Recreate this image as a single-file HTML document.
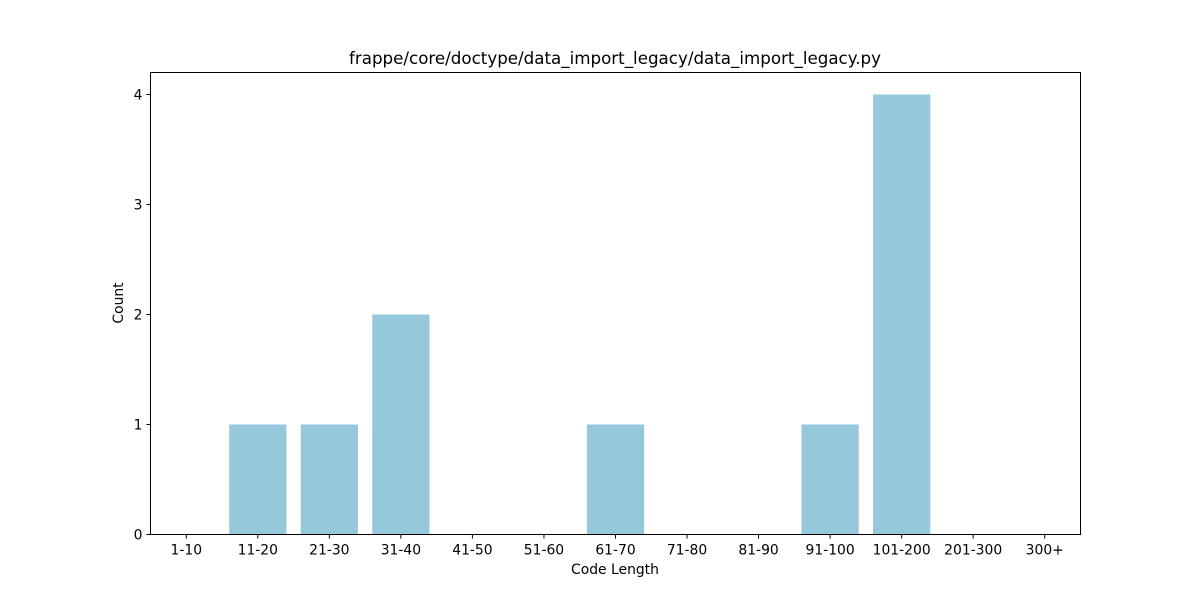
<!DOCTYPE html>
<html><head><meta charset="utf-8"><style>
html,body{margin:0;padding:0;background:#fff;}
svg{display:block;font-family:"DejaVu Sans","Liberation Sans",sans-serif;}
</style></head><body>
<svg id="chart" width="1200" height="600" xmlns="http://www.w3.org/2000/svg">
<rect width="1200" height="600" fill="#fff"/>
<text x="615" y="64" text-anchor="middle" font-size="16.7">frappe/core/doctype/data_import_legacy/data_import_legacy.py</text>
<g id="bars"></g>
<g id="axes"></g>
<text x="615" y="574" text-anchor="middle" font-size="13.9">Code Length</text>
<text transform="translate(123,303) rotate(-90)" text-anchor="middle" font-size="13.9">Count</text>
</svg>
<script>
const categories = ["1-10","11-20","21-30","31-40","41-50","51-60","61-70","71-80","81-90","91-100","101-200","201-300","300+"];
const counts = [0,1,1,2,0,0,1,0,0,1,4,0,0];
const yTicks = [0,1,2,3,4];

const L=150.5,R=1080.5,T=72.5,B=534.5;
const ns="http://www.w3.org/2000/svg";
const x = i => L + (i+0.5)*(R-L)/categories.length;
const y = v => B - v*(B-94.5)/4;
const bw = 0.8*(R-L)/categories.length;
const bars=document.getElementById('bars'), axes=document.getElementById('axes');
function mk(tag,attrs,parent){const e=document.createElementNS(ns,tag);for(const k in attrs)e.setAttribute(k,attrs[k]);parent.appendChild(e);return e;}
counts.forEach((c,i)=>{
  if(c<=0) return;
  const r=mk('rect',{x:x(i)-bw/2,y:y(c),width:bw,height:B-y(c),fill:'#96c8dc'},bars);
  
  
});
const frame=mk('rect',{x:L,y:T,width:R-L,height:B-T,fill:'none',stroke:'#000','stroke-width':1},axes);


categories.forEach((c,i)=>{
  mk('line',{x1:x(i),x2:x(i),y1:B,y2:B+4,stroke:'#000'},axes);
  const t=mk('text',{x:x(i),y:B+20,'text-anchor':'middle','font-size':13.9},axes);
  t.textContent=c;
  
  
});
yTicks.forEach(v=>{
  mk('line',{x1:L-4,x2:L,y1:y(v),y2:y(v),stroke:'#000'},axes);
  const t=mk('text',{x:L-8,y:y(v)+5,'text-anchor':'end','font-size':13.9},axes);
  t.textContent=v;
  
  
});
</script>
</body></html>
